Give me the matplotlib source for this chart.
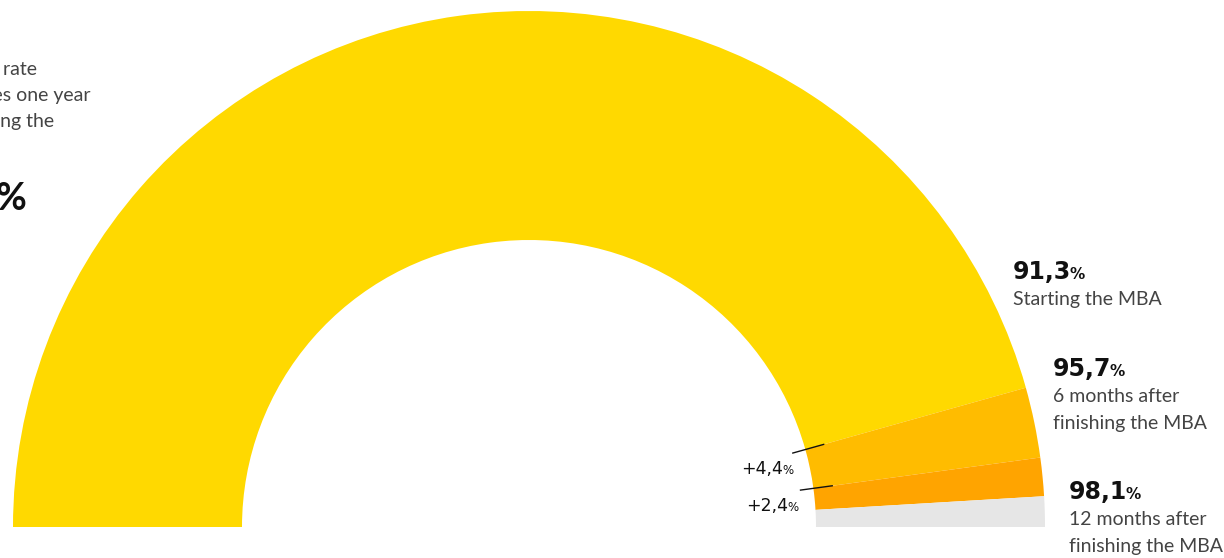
import numpy as np
import matplotlib
matplotlib.use('Agg')
import matplotlib.pyplot as plt
from matplotlib.patches import Wedge

# employment rate (%) at each stage, and the increments between them
stages = ['Starting the MBA', '6 months after\nfinishing the MBA', '12 months after\nfinishing the MBA']
rates = [91.3, 95.7, 98.1]
increments = [rates[1] - rates[0], rates[2] - rates[1]]
seg_values = [rates[0]] + increments + [100 - rates[2]]
seg_colors = ['#FFD900', '#FFBC00', '#FFA400', '#E6E6E6']

W, H = 1224, 558
fig = plt.figure(figsize=(W / 100, H / 100), dpi=100)
ax = fig.add_axes([0, 0, 1, 1])
ax.set_xlim(0, W)
ax.set_ylim(0, H)
ax.axis('off')

cx, cy = 529, H - 527
R_out, R_in = 516, 287

def to_deg(pct):
    return 180 - pct * 1.8

# half donut, filled from the left
start = 0
for val, col in zip(seg_values, seg_colors):
    t1, t2 = to_deg(start + val), to_deg(start)
    ax.add_patch(Wedge((cx, cy), R_out, t1, t2, width=R_out - R_in,
                       facecolor=col, edgecolor='none'))
    start += val

num_font = 'DejaVu Sans'
txt_font = 'Lato'
txt_color = '#444444'

fig.canvas.draw()
renderer = fig.canvas.get_renderer()

def with_pct(x, y, number, size, pct_size, weight='normal', color='#111111', gap=-1.5):
    t = ax.text(x, H - y, number, fontsize=size, fontweight=weight, family=num_font,
                color=color, ha='left', va='baseline')
    bb = t.get_window_extent(renderer)
    x_end = ax.transData.inverted().transform((bb.x1, 0))[0]
    ax.text(x_end + gap, H - y, '%', fontsize=pct_size, fontweight=weight, family=num_font,
            color=color, ha='left', va='baseline')

def fmt(v):
    return f'{v:.1f}'.replace('.', ',')

# stage labels on the right
label_pos = [(1013, 279), (1053, 376), (1069, 499)]
for (x, y), rate, name in zip(label_pos, rates, stages):
    with_pct(x, y, fmt(rate), 17, 11, weight='bold')
    for i, line in enumerate(name.split('\n')):
        ax.text(x, H - (y + 26 + 27 * i), line, fontsize=14, family=txt_font,
                color=txt_color, ha='left', va='baseline')

# increments: radial ticks at the start of each added segment
inc_pos = [(741, 474), (746, 511)]
cum = rates[0]
for inc, (x, y) in zip(increments, inc_pos):
    a = np.radians(to_deg(cum))
    rr = np.array([274, 306])
    ax.plot(cx + rr * np.cos(a), cy + rr * np.sin(a), color='#111111', lw=1)
    with_pct(x, y, '+' + fmt(inc), 12.5, 8.5, gap=-0.5)
    cum += inc

# intro text on the left
intro = [('Employment rate', 37, 75), ('of graduates one year', 90, 101), ('after finishing the', 54, 127)]
for line, xr, y in intro:
    ax.text(xr, H - y, line, fontsize=14, family=txt_font, color=txt_color,
            ha='right', va='baseline')
ax.text(27, H - 209, fmt(rates[2]) + '%', fontsize=27, fontweight='bold', family=txt_font,
        color='#111111', ha='right', va='baseline')

fig.savefig('out.png', dpi=100)
